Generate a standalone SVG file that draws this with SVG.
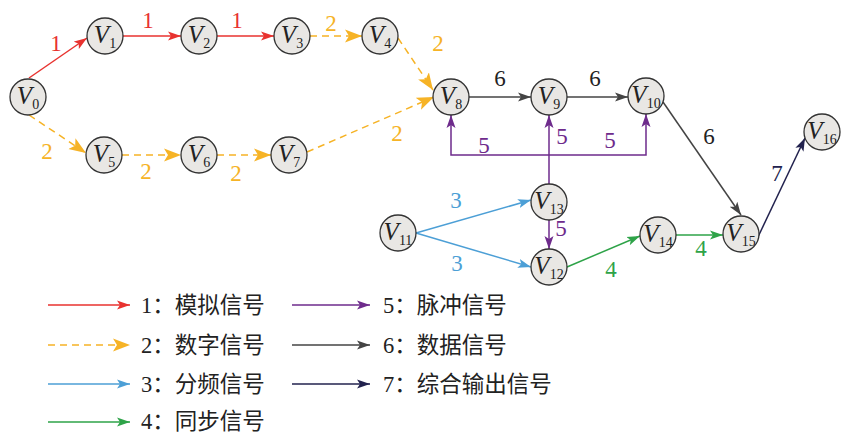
<svg xmlns="http://www.w3.org/2000/svg" width="843" height="434" viewBox="0 0 843 434">
<style>
.node circle{fill:#e9e7e4;stroke:#333;stroke-width:1.3}
.node text{font-family:"Liberation Serif",serif;font-size:25px;fill:#222}
.v{font-style:italic}
.sub{font-size:14px}
.e{fill:none;stroke-width:1.5}
.lb{font-family:"Liberation Serif",serif;font-size:23px}
.lg{font-family:"Liberation Serif","Noto Sans CJK SC",serif;font-size:22.5px;fill:#222}
.red{stroke:#e8322f}.org{stroke:#f6b326;stroke-dasharray:7 5}.blu{stroke:#4c9fd6}.grn{stroke:#2ea348}.pur{stroke:#6e2b8c}.gry{stroke:#444}.nav{stroke:#22224e}
</style>
<defs>
<marker id="mr" markerUnits="userSpaceOnUse" markerWidth="14" markerHeight="10" refX="13" refY="5" orient="auto"><path d="M0,0.5 L13,5 L0,9.5 L3,5z" fill="#e8322f"/></marker>
<marker id="mo" markerUnits="userSpaceOnUse" markerWidth="18" markerHeight="14" refX="17" refY="7" orient="auto"><path d="M0,0.5 L17,7 L0,13.5 L4,7z" fill="#f6b326"/></marker>
<marker id="mb" markerUnits="userSpaceOnUse" markerWidth="14" markerHeight="10" refX="13" refY="5" orient="auto"><path d="M0,0.5 L13,5 L0,9.5 L3,5z" fill="#4c9fd6"/></marker>
<marker id="mg" markerUnits="userSpaceOnUse" markerWidth="14" markerHeight="10" refX="13" refY="5" orient="auto"><path d="M0,0.5 L13,5 L0,9.5 L3,5z" fill="#2ea348"/></marker>
<marker id="mp" markerUnits="userSpaceOnUse" markerWidth="14" markerHeight="10" refX="13" refY="5" orient="auto"><path d="M0,0.5 L13,5 L0,9.5 L3,5z" fill="#6e2b8c"/></marker>
<marker id="mk" markerUnits="userSpaceOnUse" markerWidth="14" markerHeight="10" refX="13" refY="5" orient="auto"><path d="M0,0.5 L13,5 L0,9.5 L3,5z" fill="#444"/></marker>
<marker id="mn" markerUnits="userSpaceOnUse" markerWidth="14" markerHeight="10" refX="13" refY="5" orient="auto"><path d="M0,0.5 L13,5 L0,9.5 L3,5z" fill="#22224e"/></marker>
</defs>
<rect width="843" height="434" fill="#fff"/>
<g id="connectors">
<line class="e red" x1="29" y1="78" x2="87" y2="38" marker-end="url(#mr)"/>
<line class="e red" x1="123" y1="36" x2="181" y2="36" marker-end="url(#mr)"/>
<line class="e red" x1="217" y1="36" x2="274" y2="36" marker-end="url(#mr)"/>
<line class="e org" x1="310" y1="36" x2="362" y2="36" marker-end="url(#mo)"/>
<line class="e org" x1="398" y1="38" x2="433" y2="90" marker-end="url(#mo)"/>
<line class="e org" x1="307" y1="152" x2="434" y2="97" marker-end="url(#mo)"/>
<line class="e org" x1="29" y1="115" x2="86" y2="153" marker-end="url(#mo)"/>
<line class="e org" x1="122" y1="155" x2="181" y2="155" marker-end="url(#mo)"/>
<line class="e org" x1="217" y1="155" x2="271" y2="155" marker-end="url(#mo)"/>
<line class="e gry" x1="469" y1="97" x2="531" y2="97" marker-end="url(#mk)"/>
<line class="e gry" x1="567" y1="97" x2="628" y2="97" marker-end="url(#mk)"/>
<line class="e gry" x1="663" y1="102" x2="741" y2="215" marker-end="url(#mk)"/>
<line class="e nav" x1="758" y1="237" x2="805" y2="138" marker-end="url(#mn)"/>
<line class="e blu" x1="416" y1="233" x2="531" y2="200" marker-end="url(#mb)"/>
<line class="e blu" x1="416" y1="233" x2="531" y2="267" marker-end="url(#mb)"/>
<line class="e pur" x1="549" y1="220" x2="549" y2="249" marker-end="url(#mp)"/>
<line class="e grn" x1="567" y1="267" x2="640" y2="236" marker-end="url(#mg)"/>
<line class="e grn" x1="676" y1="235" x2="723" y2="235" marker-end="url(#mg)"/>
<line class="e pur" x1="549" y1="184" x2="549" y2="115" marker-end="url(#mp)"/>
<polyline class="e pur" points="549,155 451,155 451,115" marker-end="url(#mp)"/>
<polyline class="e pur" points="549,155 646,155 646,114" marker-end="url(#mp)"/>
<g class="lb">
<text x="56" y="51" fill="#e8322f" text-anchor="middle">1</text>
<text x="148" y="28" fill="#e8322f" text-anchor="middle">1</text>
<text x="237" y="28" fill="#e8322f" text-anchor="middle">1</text>
<text x="331" y="31" fill="#f6b326" text-anchor="middle">2</text>
<text x="438" y="51" fill="#f6b326" text-anchor="middle">2</text>
<text x="397" y="141" fill="#f6b326" text-anchor="middle">2</text>
<text x="47" y="159" fill="#f6b326" text-anchor="middle">2</text>
<text x="146" y="179" fill="#f6b326" text-anchor="middle">2</text>
<text x="236" y="181" fill="#f6b326" text-anchor="middle">2</text>
<text x="500" y="86" fill="#222" text-anchor="middle">6</text>
<text x="595" y="86" fill="#222" text-anchor="middle">6</text>
<text x="709" y="144" fill="#222" text-anchor="middle">6</text>
<text x="777" y="181" fill="#22224e" text-anchor="middle">7</text>
<text x="456" y="208" fill="#4c9fd6" text-anchor="middle">3</text>
<text x="457" y="271" fill="#4c9fd6" text-anchor="middle">3</text>
<text x="561" y="236" fill="#6e2b8c" text-anchor="middle">5</text>
<text x="562" y="144" fill="#6e2b8c" text-anchor="middle">5</text>
<text x="484" y="153" fill="#6e2b8c" text-anchor="middle">5</text>
<text x="610" y="148" fill="#6e2b8c" text-anchor="middle">5</text>
<text x="611" y="277" fill="#2ea348" text-anchor="middle">4</text>
<text x="701" y="256" fill="#2ea348" text-anchor="middle">4</text>
</g>
</g>
<g id="V0" class="node"><circle cx="28" cy="97" r="18"/><text x="28" y="104" text-anchor="middle"><tspan class="v">V</tspan><tspan class="sub" dy="5">0</tspan></text></g>
<g id="V1" class="node"><circle cx="105" cy="36" r="18"/><text x="105" y="43" text-anchor="middle"><tspan class="v">V</tspan><tspan class="sub" dy="5">1</tspan></text></g>
<g id="V2" class="node"><circle cx="199" cy="36" r="18"/><text x="199" y="43" text-anchor="middle"><tspan class="v">V</tspan><tspan class="sub" dy="5">2</tspan></text></g>
<g id="V3" class="node"><circle cx="292" cy="36" r="18"/><text x="292" y="43" text-anchor="middle"><tspan class="v">V</tspan><tspan class="sub" dy="5">3</tspan></text></g>
<g id="V4" class="node"><circle cx="380" cy="36" r="18"/><text x="380" y="43" text-anchor="middle"><tspan class="v">V</tspan><tspan class="sub" dy="5">4</tspan></text></g>
<g id="V5" class="node"><circle cx="104" cy="155" r="18"/><text x="104" y="162" text-anchor="middle"><tspan class="v">V</tspan><tspan class="sub" dy="5">5</tspan></text></g>
<g id="V6" class="node"><circle cx="199" cy="155" r="18"/><text x="199" y="162" text-anchor="middle"><tspan class="v">V</tspan><tspan class="sub" dy="5">6</tspan></text></g>
<g id="V7" class="node"><circle cx="289" cy="155" r="18"/><text x="289" y="162" text-anchor="middle"><tspan class="v">V</tspan><tspan class="sub" dy="5">7</tspan></text></g>
<g id="V8" class="node"><circle cx="451" cy="97" r="18"/><text x="451" y="104" text-anchor="middle"><tspan class="v">V</tspan><tspan class="sub" dy="5">8</tspan></text></g>
<g id="V9" class="node"><circle cx="549" cy="97" r="18"/><text x="549" y="104" text-anchor="middle"><tspan class="v">V</tspan><tspan class="sub" dy="5">9</tspan></text></g>
<g id="V10" class="node"><circle cx="646" cy="96" r="18"/><text x="646" y="103" text-anchor="middle"><tspan class="v">V</tspan><tspan class="sub" dy="5">10</tspan></text></g>
<g id="V11" class="node"><circle cx="398" cy="233" r="18"/><text x="398" y="240" text-anchor="middle"><tspan class="v">V</tspan><tspan class="sub" dy="5">11</tspan></text></g>
<g id="V12" class="node"><circle cx="549" cy="267" r="18"/><text x="549" y="274" text-anchor="middle"><tspan class="v">V</tspan><tspan class="sub" dy="5">12</tspan></text></g>
<g id="V13" class="node"><circle cx="549" cy="202" r="18"/><text x="549" y="209" text-anchor="middle"><tspan class="v">V</tspan><tspan class="sub" dy="5">13</tspan></text></g>
<g id="V14" class="node"><circle cx="658" cy="235" r="18"/><text x="658" y="242" text-anchor="middle"><tspan class="v">V</tspan><tspan class="sub" dy="5">14</tspan></text></g>
<g id="V15" class="node"><circle cx="741" cy="234" r="18"/><text x="741" y="241" text-anchor="middle"><tspan class="v">V</tspan><tspan class="sub" dy="5">15</tspan></text></g>
<g id="V16" class="node"><circle cx="822" cy="132" r="18"/><text x="822" y="139" text-anchor="middle"><tspan class="v">V</tspan><tspan class="sub" dy="5">16</tspan></text></g>
<g id="legend">
<line class="e red" x1="48" y1="305" x2="130" y2="305" marker-end="url(#mr)"/>
<line class="e org" x1="48" y1="345" x2="130" y2="345" marker-end="url(#mo)"/>
<line class="e blu" x1="48" y1="384" x2="130" y2="384" marker-end="url(#mb)"/>
<line class="e grn" x1="48" y1="422" x2="130" y2="422" marker-end="url(#mg)"/>
<line class="e pur" x1="292" y1="305" x2="370" y2="305" marker-end="url(#mp)"/>
<line class="e gry" x1="292" y1="345" x2="370" y2="345" marker-end="url(#mk)"/>
<line class="e nav" x1="292" y1="384" x2="370" y2="384" marker-end="url(#mn)"/>
<text class="lg" x="141" y="313">1：模拟信号</text>
<text class="lg" x="141" y="353">2：数字信号</text>
<text class="lg" x="141" y="392">3：分频信号</text>
<text class="lg" x="141" y="429">4：同步信号</text>
<text class="lg" x="383" y="313">5：脉冲信号</text>
<text class="lg" x="383" y="353">6：数据信号</text>
<text class="lg" x="383" y="392">7：综合输出信号</text>
</g>
</svg>
